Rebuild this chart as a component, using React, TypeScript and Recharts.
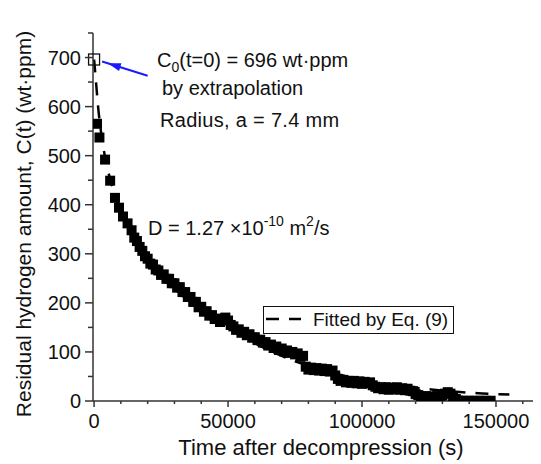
import React from "react";
import {
  ComposedChart,
  Line,
  Scatter,
  XAxis,
  YAxis,
  ReferenceDot,
  ReferenceLine,
  Legend,
} from "recharts";

// ---------- data ----------
const timeS = [
  1100, 2000, 4100, 6000, 7800, 9300, 10800, 12500, 14000, 15000, 16000, 17000,
  18000, 19000, 20000, 21000, 22000, 23000, 24000, 25000, 26000, 27000, 28000,
  29000, 30000, 31000, 32000, 33000, 34000, 35000, 36000, 37000, 38000, 39000,
  40000, 41000, 42000, 43000, 44000, 45000, 46000, 47000, 48000, 49000, 50000,
  51000, 52000, 53000, 54000, 55000, 56000, 57000, 58000, 59000, 60000, 61000,
  62000, 63000, 64000, 65000, 66000, 67000, 68000, 69000, 70000, 71000, 72000,
  73000, 74000, 75000, 76000, 77000, 78000, 79000, 80000, 81000, 82000, 83000,
  84000, 85000, 86000, 87000, 88000, 89000, 90000, 91000, 92000, 93000, 94000,
  95000, 96000, 97000, 98000, 99000, 100000, 101000, 102000, 103000, 104000,
  105000, 106000, 107000, 108000, 109000, 110000, 111000, 112000, 113000,
  114000, 115000, 116000, 117000, 118000, 119000, 120000, 121000, 122000,
  123000, 124000, 125000, 126000, 127000, 128000, 129000, 130000, 131000,
  132000, 133000, 134000, 135000, 136000, 138000, 140000, 142000, 144000,
  146000, 148000,
];
const concPpm = [
  565, 537, 492, 449, 414, 394, 376, 362, 348, 333, 326, 314, 306, 295, 290,
  280, 278, 268, 266, 257, 258, 249, 249, 240, 240, 231, 232, 222, 222, 212,
  212, 202, 202, 191, 192, 182, 183, 174, 175, 167, 168, 161, 166, 170, 164,
  155, 152, 145, 146, 139, 141, 134, 136, 129, 130, 124, 125, 119, 120, 113,
  115, 108, 111, 104, 107, 101, 103, 98, 100, 95, 97, 90, 92, 70, 64, 68, 63,
  67, 62, 66, 61, 65, 60, 62, 52, 45, 41, 43, 38, 41, 37, 41, 36, 40, 35, 39,
  36, 38, 32, 29, 26, 28, 24, 28, 23, 27, 24, 28, 23, 26, 22, 25, 21, 20, 14,
  12, 9, 8, 10, 7, 9, 8, 10, 8, 11, 15, 18, 15, 10, 4, 1, 0.5, 0.5, 0.5, 0.5,
  0.5, 0.5,
];
const fitTime = [
  0, 200, 400, 800, 1500, 2500, 4000, 6000, 8000, 10000, 12000, 14000, 16000,
  18000, 20000, 23000, 26000, 30000, 35000, 40000, 45000, 50000, 55000, 60000,
  65000, 70000, 75000, 80000, 85000, 90000, 95000, 100000, 105000, 110000,
  115000, 120000, 125000, 130000, 135000, 140000, 145000, 150000, 155000,
];
const fitConc = [
  696, 684, 671, 645, 600, 552, 500, 452, 416, 388, 363, 342, 322, 305, 289,
  268, 250, 229, 205, 184, 167, 152, 135, 118, 104, 92, 81, 72, 63, 56, 49,
  43, 38, 34, 30, 27, 24, 21, 19, 17, 15.5, 14, 13,
];
const xTicks = [
  0, 10000, 20000, 30000, 40000, 50000, 60000, 70000, 80000, 90000, 100000,
  110000, 120000, 130000, 140000, 150000, 160000,
];
const yTicks = [
  0, 50, 100, 150, 200, 250, 300, 350, 400, 450, 500, 550, 600, 650, 700, 750,
];
const c0Value = 696;
const arrowFrom = { t: 20000, c: 663 };
const arrowTo = { t: 3000, c: 692 };

const scatterData = timeS.map((t, i) => ({ t, c: concPpm[i] }));
const fitData = fitTime.map((t, i) => ({ t, c: fitConc[i] }));

// ---------- styles ----------
const W = 533;
const H = 456;
const FONT = "'Liberation Sans', Arial, Helvetica, sans-serif";
const AX = "#333";
const TXT = "#111";

const BottomTick = (props: any) => {
  const { x, y, payload } = props;
  const v = payload.value;
  const major = v % 50000 === 0;
  return (
    <g>
      <line x1={x} x2={x} y1={y} y2={y + (major ? 6 : 3)} stroke={AX} strokeWidth={1.5} />
      {major && (
        <text x={x} y={y + 27} textAnchor="middle" fontSize={20} fill={TXT} fontFamily={FONT}>
          {v}
        </text>
      )}
    </g>
  );
};

const TopTick = (props: any) => {
  const { x, y, payload } = props;
  const major = payload.value % 50000 === 0;
  return <line x1={x} x2={x} y1={y} y2={y + (major ? 6 : 3)} stroke={AX} strokeWidth={1.5} />;
};

const LeftTick = (props: any) => {
  const { x, y, payload } = props;
  const v = payload.value;
  const major = v % 100 === 0;
  return (
    <g>
      <line x1={x - (major ? 8 : 5)} x2={x} y1={y} y2={y} stroke={AX} strokeWidth={1.5} />
      {major && (
        <text x={x - 12} y={y + 7} textAnchor="end" fontSize={20} fill={TXT} fontFamily={FONT}>
          {v}
        </text>
      )}
    </g>
  );
};

const Square = (props: any) => {
  const { cx, cy } = props;
  const s = 10;
  return <rect x={cx - s / 2} y={cy - s / 2} width={s} height={s} fill="#000" />;
};

const HollowSquare = (props: any) => {
  const { cx, cy } = props;
  const s = 11;
  return (
    <rect x={cx - s / 2} y={cy - s / 2} width={s} height={s} fill="none" stroke="#111" strokeWidth={1.3} />
  );
};

const ArrowShape = (props: any) => {
  const { x1, y1, x2, y2 } = props;
  const dx = x1 - x2;
  const dy = y1 - y2;
  const len = Math.sqrt(dx * dx + dy * dy) || 1;
  const ux = dx / len;
  const uy = dy / len;
  const nx = -uy;
  const ny = ux;
  const tipX = x2 + ux * 6;
  const tipY = y2 + uy * 6;
  const bX = x2 + ux * 19;
  const bY = y2 + uy * 19;
  const pts = `${tipX},${tipY} ${bX + nx * 4},${bY + ny * 4} ${bX - nx * 4},${bY - ny * 4}`;
  return (
    <g>
      <line x1={x1} y1={y1} x2={x2} y2={y2} stroke="#1a1aff" strokeWidth={2} />
      <polygon points={pts} fill="#1a1aff" />
    </g>
  );
};

const LegendBox = (props: any) => {
  const items = (props.payload || []).filter((p: any) => p.type !== "none");
  return (
    <svg width={191} height={28} style={{ display: "block", overflow: "visible" }}>
      <rect x={0.5} y={0.5} width={190} height={27} fill="#fff" stroke="#111" strokeWidth={1} />
      {items.map((it: any, i: number) => (
        <g key={i}>
          <line x1={3} x2={38} y1={13} y2={13} stroke="#000" strokeWidth={2.5} strokeDasharray="13 10" />
          <text x={50} y={20} fontSize={19} fill={TXT} fontFamily={FONT}>
            {it.value}
          </text>
        </g>
      ))}
    </svg>
  );
};

export default function App() {
  return (
    <div style={{ position: "relative", width: W, height: H, fontFamily: FONT }}>
      <ComposedChart
        width={W}
        height={H}
        margin={{ top: 25, right: 0, bottom: 0, left: 0 }}
      >
        <XAxis
          xAxisId="bottom"
          type="number"
          dataKey="t"
          domain={[-400, 166800]}
          ticks={xTicks}
          interval={0}
          allowDataOverflow
          height={63}
          tickSize={0}
          tickMargin={0}
          tickLine={false}
          tick={<BottomTick />}
          axisLine={{ stroke: AX, strokeWidth: 1.5 }}
        />
        <XAxis
          xAxisId="top"
          orientation="top"
          type="number"
          dataKey="t"
          domain={[-400, 166800]}
          ticks={xTicks}
          interval={0}
          allowDataOverflow
          height={0}
          tickSize={0}
          tickMargin={0}
          tickLine={false}
          tick={<TopTick />}
          axisLine={{ stroke: AX, strokeWidth: 1.5 }}
        />
        <YAxis
          type="number"
          dataKey="c"
          domain={[0, 750]}
          ticks={yTicks}
          interval={0}
          allowDataOverflow
          width={85}
          tickSize={0}
          tickMargin={0}
          tickLine={false}
          tick={<LeftTick />}
          axisLine={{ stroke: AX, strokeWidth: 1.5 }}
        />
        <Legend
          layout="horizontal"
          verticalAlign="middle"
          align="center"
          content={<LegendBox />}
          wrapperStyle={{ position: "absolute", left: 255, top: 298, width: 191, height: 28 }}
        />
        <Line
          xAxisId="bottom"
          data={fitData}
          dataKey="c"
          name="Fitted by Eq. (9)"
          type="monotone"
          stroke="#000"
          strokeWidth={2.5}
          strokeDasharray="13 10"
          dot={false}
          activeDot={false}
          isAnimationActive={false}
        />
        <Scatter
          xAxisId="bottom"
          data={scatterData}
          dataKey="c"
          name="Measured"
          legendType="none"
          shape={<Square />}
          isAnimationActive={false}
        />
        <ReferenceDot xAxisId="bottom" x={0} y={c0Value} shape={<HollowSquare />} ifOverflow="visible" />
        <ReferenceLine
          xAxisId="bottom"
          segment={[
            { x: arrowFrom.t, y: arrowFrom.c },
            { x: arrowTo.t, y: arrowTo.c },
          ]}
          ifOverflow="visible"
          shape={<ArrowShape />}
        />
      </ComposedChart>
      <svg
        width={W}
        height={H}
        style={{ position: "absolute", left: 0, top: 0, pointerEvents: "none", overflow: "visible" }}
        fontFamily={FONT}
        fill={TXT}
      >
        <text x={149} y={59} fontSize={20}>
          C<tspan fontSize={14} dy={5}>0</tspan>
          <tspan dy={-5}>(t=0) = 696 wt·ppm</tspan>
        </text>
        <text x={154} y={87} fontSize={20}>by extrapolation</text>
        <text x={152} y={119} fontSize={20} letterSpacing={0.3}>Radius, a = 7.4 mm</text>
        <text x={140} y={227} fontSize={20}>
          D = 1.27 ×10<tspan fontSize={14} dy={-9}>-10</tspan>
          <tspan dy={9}> m</tspan>
          <tspan fontSize={14} dy={-9}>2</tspan>
          <tspan dy={9}>/s</tspan>
        </text>
        <text x={313} y={447} fontSize={22} textAnchor="middle">
          Time after decompression (s)
        </text>
        <text x={23} y={216} fontSize={21} textAnchor="middle" transform="rotate(-90 23 216)">
          Residual hydrogen amount, C(t) (wt·ppm)
        </text>
      </svg>
    </div>
  );
}
